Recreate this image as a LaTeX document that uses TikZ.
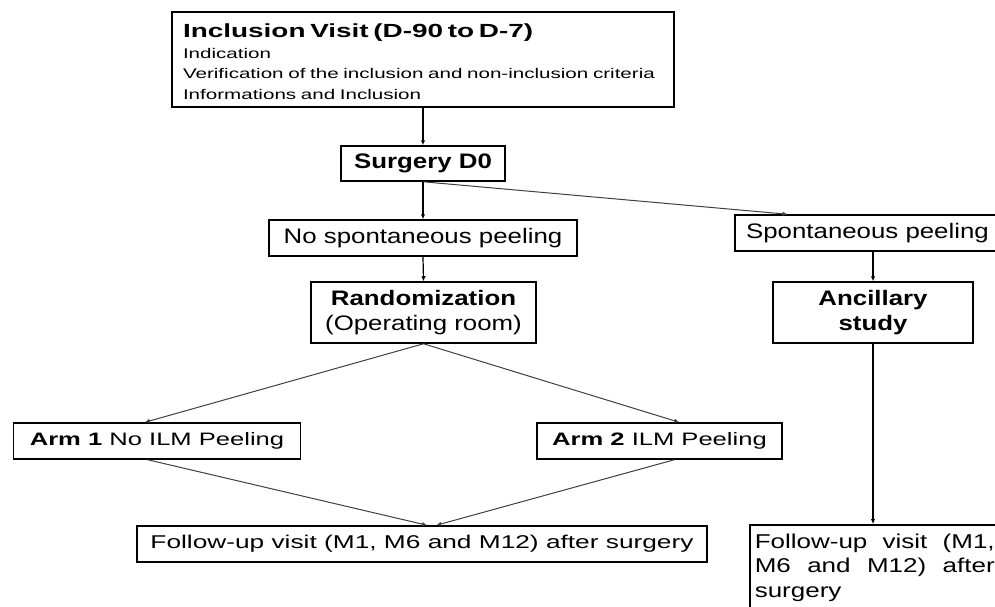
\documentclass[tikz,border=0pt]{standalone}
\usepackage{fontspec}
\setmainfont{Liberation Sans}
\newfontfamily\topfont[FakeStretch=1.47]{Liberation Sans}
\newfontfamily\midfont[FakeStretch=1.23]{Liberation Sans}
\newfontfamily\lowfont[FakeStretch=1.42]{Liberation Sans}
\newfontfamily\rfont[FakeStretch=1.3]{Liberation Sans}
\usetikzlibrary{arrows.meta,calc}
\begin{document}
\begin{tikzpicture}[x=1pt,y=-1pt,
  box/.style={draw,line width=1.5pt,rectangle,inner sep=0pt},
  mid/.style={font=\midfont\fontsize{21}{25}\selectfont},
  low/.style={font=\lowfont\fontsize{18}{22}\selectfont},
  conn/.style={line width=1.2pt,-{Latex[length=5pt,width=4.5pt]}},
  diag/.style={line width=1pt,draw=black!75,-{Latex[length=5pt,width=4.5pt]}}]
\useasboundingbox (0,0) rectangle (995,606);
\clip (0,0) rectangle (995,606);
\fill[white] (0,0) rectangle (995,606);

\node[box,minimum width=502,minimum height=95,text width=480,align=left,
  font=\topfont\fontsize{14}{20.5}\selectfont] (incl) at (423,59.5)
  {{\fontsize{19}{20.5}\selectfont\bfseries\rule{0pt}{18.5pt}Inclusion Visit (D-90 to D-7)}\\
   Indication\\
   Verification of the inclusion and non-inclusion criteria\\
   Informations and Inclusion};

\node[box,mid,minimum width=164,minimum height=35] (surg) at (423,163.5) {\bfseries Surgery D0};
\node[box,mid,minimum width=308,minimum height=36] (nsp) at (423,238) {No spontaneous peeling};
\node[box,mid,minimum width=225,minimum height=61,align=center] (rand) at (423.5,312.5)
  {{\bfseries Randomization}\\(Operating room)};
\node[box,mid,minimum width=265,minimum height=36] (spont) at (867.5,233) {Spontaneous peeling};
\node[box,mid,minimum width=200,minimum height=61,align=center] (anc) at (873,312.5)
  {\bfseries Ancillary\\\bfseries study};

\node[box,low,minimum width=287,minimum height=36] (arm1) at (157,441) {{\bfseries Arm 1} No ILM Peeling};
\node[box,low,minimum width=245,minimum height=36] (arm2) at (659.5,441) {{\bfseries Arm 2} ILM Peeling};
\node[box,font=\lowfont\fontsize{18.5}{22}\selectfont,minimum width=570,minimum height=36] (fu) at (422,544)
  {Follow-up visit (M1, M6 and M12) after surgery};
\node[box,anchor=north west,text width=240,inner xsep=5pt,inner ysep=9pt,align=justify,
  font=\rfont\fontsize{20}{24.5}\selectfont] (fu2) at (749,524)
  {Follow-up visit (M1, M6 and M12) after surgery};

\draw[conn] (incl.south) -- (surg.north);
\draw[conn] (surg.south) -- (nsp.north);
\draw[conn] (nsp.south) -- (rand.north);
\draw[diag] (surg.south) -- ($(spont.north west)!0.2!(spont.north east)$);
\draw[conn] (spont.south -| anc.north) -- (anc.north);
\draw[conn] (anc.south) -- (anc.south |- fu2.north);
\draw[diag] (rand.south) -- ($(arm1.north west)!0.458!(arm1.north east)$);
\draw[diag] (rand.south) -- ($(arm2.north west)!0.58!(arm2.north east)$);
\draw[diag] ($(arm1.south west)!0.468!(arm1.south east)$) -- ($(fu.north west)!0.509!(fu.north east)$);
\draw[diag] ($(arm2.south west)!0.56!(arm2.south east)$) -- ($(fu.north west)!0.525!(fu.north east)$);
\end{tikzpicture}
\end{document}
